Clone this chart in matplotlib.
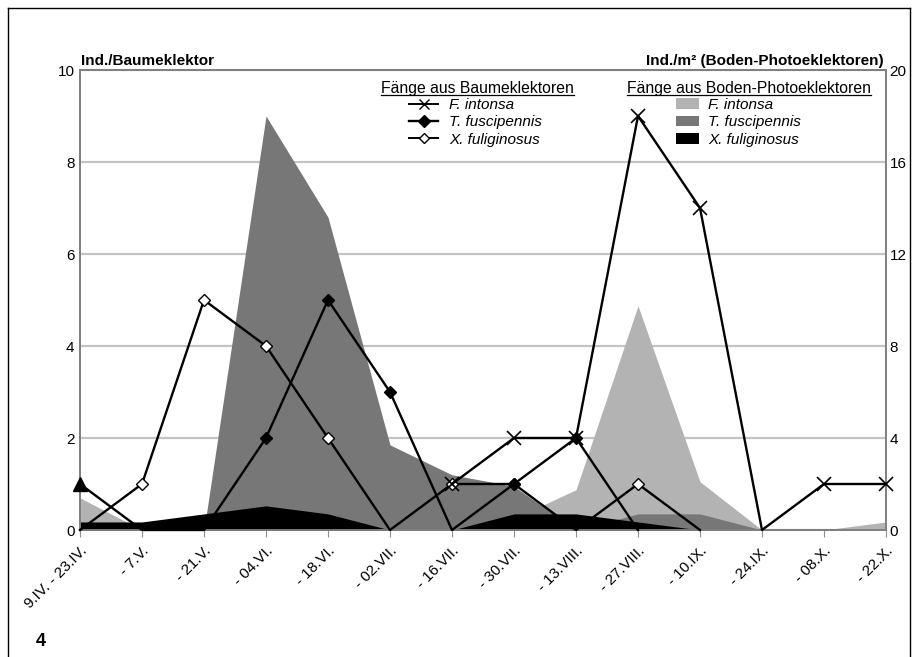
import numpy as np
import matplotlib
matplotlib.use("Agg")
import matplotlib.pyplot as plt
from matplotlib.lines import Line2D
from matplotlib.patches import Patch

plt.rcParams['font.family'] = ['Liberation Sans', 'DejaVu Sans']

nan = np.nan

# Sampling periods
categories = ["9.IV. - 23.IV.", "- 7.V.", "- 21.V.", "- 04.VI.", "- 18.VI.",
              "- 02.VII.", "- 16.VII.", "- 30.VII.", "- 13.VIII.", "- 27.VIII.",
              "- 10.IX.", "- 24.IX.", "- 08.X.", "- 22.X."]

# Catches from tree eclectors (Ind./Baumeklektor, left axis)
fi_baum = [nan, nan, nan, nan, nan, nan, 1, 2, 2, 9, 7, 0, 1, 1]
tf_baum = [1, 0, 0, 2, 5, 3, 0, 1, 2, 0, nan, nan, nan, nan]
xf_baum = [0, 1, 5, 4, 2, 0, 1, 1, 0, 1, 0, nan, nan, nan]

# Catches from ground photo-eclectors (Ind./m², right axis)
fi_boden = [1.4, 0, 0, 0, 0, 0, 0, 0.5, 1.75, 9.75, 2.1, 0, 0, 0.35]
tf_boden = [0, 0, 0, 18.0, 13.6, 3.7, 2.4, 1.9, 0, 0.7, 0.7, 0, 0, 0]
xf_boden = [0.35, 0.35, 0.7, 1.05, 0.7, 0, 0, 0.7, 0.7, 0.35, 0, 0, 0, 0]

W, H = 917, 657
fig = plt.figure(figsize=(W / 100, H / 100), dpi=100)
fig.patch.set_facecolor('white')

def fx(px):
    return px / W

def fy(py):
    return 1 - py / H

x = np.arange(len(categories))

# Area axis (right scale) drawn first, line axis on top of it
ax = fig.add_axes([fx(80), fy(530), fx(886) - fx(80), (530 - 70) / H])
ax2 = ax.twinx()

ax.fill_between(x, 0, fi_boden, color='#b3b3b3', linewidth=0, zorder=2)
ax.fill_between(x, 0, tf_boden, color='#777777', linewidth=0, zorder=3)
ax.fill_between(x, 0, xf_boden, color='#000000', linewidth=0, zorder=4)

ax.set_xlim(0, len(categories) - 1)
ax.set_ylim(0, 20)
ax.set_yticks([0, 4, 8, 12, 16, 20])
ax.set_axisbelow(True)
ax.grid(axis='y', color='#c4c4c4', linewidth=1.6)
ax.yaxis.tick_right()
ax.yaxis.set_label_position('right')
ax.tick_params(axis='y', length=0, pad=2.5, labelsize=11)
ax.set_xticks(x)
ax.set_xticklabels(categories, rotation=45, ha='right', rotation_mode='anchor',
                   fontsize=11)
ax.tick_params(axis='x', length=5, color='#909090', pad=5)

def nz(vals):
    return [i for i, v in enumerate(vals) if not np.isnan(v) and v > 0]

ax2.plot(x, fi_baum, color='black', lw=1.7, marker='x', ms=10, mew=1.2,
         markevery=nz(fi_baum), zorder=5, clip_on=False)
ax2.plot(x, xf_baum, color='black', lw=1.7, marker='D', ms=6.5, mfc='white',
         mec='black', mew=1.0, markevery=nz(xf_baum), zorder=4, clip_on=False)
tf_marks = [i for i in nz(tf_baum) if i > 0]
ax2.plot(x, tf_baum, color='black', lw=1.7, marker='D', ms=6.5, mfc='black',
         mec='black', markevery=tf_marks, zorder=6, clip_on=False)
ax2.plot(x[:1], tf_baum[:1], linestyle='none', marker='^', ms=10, color='black',
         zorder=7, clip_on=False)

ax2.set_ylim(0, 10)
ax2.set_yticks([0, 2, 4, 6, 8, 10])
ax2.yaxis.tick_left()
ax2.tick_params(axis='y', length=0, pad=4, labelsize=11)

for a in (ax, ax2):
    for side in ('left', 'right', 'top', 'bottom'):
        a.spines[side].set_color('#808080')
        a.spines[side].set_linewidth(1.3)

# Axis titles
fig.text(fx(81), fy(61), "Ind./Baumeklektor", fontsize=11, fontweight='bold',
         ha='left', va='center')
fig.text(fx(884), fy(61), "Ind./m² (Boden-Photoeklektoren)", fontsize=11,
         fontweight='bold', ha='right', va='center')

# Legend titles with underline
def underlined_title(text, x0, y0):
    t = fig.text(fx(x0), fy(y0), text, fontsize=11.3, ha='left', va='center')
    fig.canvas.draw()
    bb = t.get_window_extent()
    yline = fy(y0 + 7)
    fig.add_artist(Line2D([bb.x0 / W, bb.x1 / W], [yline, yline],
                          color='black', lw=0.9, transform=fig.transFigure))

underlined_title("Fänge aus Baumeklektoren", 381, 88)
underlined_title("Fänge aus Boden-Photoeklektoren", 627, 88)

line_handles = [
    Line2D([], [], color='black', lw=1.4, marker='x', ms=7, mew=1.0),
    Line2D([], [], color='black', lw=1.7, marker='D', ms=6, mfc='black'),
    Line2D([], [], color='black', lw=1.4, marker='D', ms=5.5, mfc='white', mew=1.0),
]
leg1 = ax2.legend(line_handles, ["F. intonsa", "T. fuscipennis", "X. fuliginosus"],
                  loc='upper left', bbox_to_anchor=(fx(409), fy(98)),
                  bbox_transform=fig.transFigure, frameon=False,
                  prop={'style': 'italic', 'size': 11}, handlelength=1.9,
                  handletextpad=0.75, labelspacing=0.22, borderaxespad=0,
                  borderpad=0)

patch_handles = [Patch(facecolor='#b3b3b3'), Patch(facecolor='#777777'),
                 Patch(facecolor='#000000')]
leg2 = ax2.legend(patch_handles, ["F. intonsa", "T. fuscipennis", "X. fuliginosus"],
                  loc='upper left', bbox_to_anchor=(fx(676), fy(98)),
                  bbox_transform=fig.transFigure, frameon=False,
                  prop={'style': 'italic', 'size': 11}, handlelength=1.5,
                  handleheight=0.7, handletextpad=0.6, labelspacing=0.22,
                  borderaxespad=0, borderpad=0)
ax2.add_artist(leg1)

# Panel number
fig.text(fx(36), fy(641), "4", fontsize=13, fontweight='bold', ha='left',
         va='center')

# Outer frame
for xs, ys in (([8, 8], [8, H]), ([8, 910], [8, 8]), ([910, 910], [8, H])):
    fig.add_artist(Line2D([fx(v) for v in xs], [fy(v) for v in ys],
                          color='black', lw=1.0, transform=fig.transFigure))

fig.savefig("out.png", dpi=100)
